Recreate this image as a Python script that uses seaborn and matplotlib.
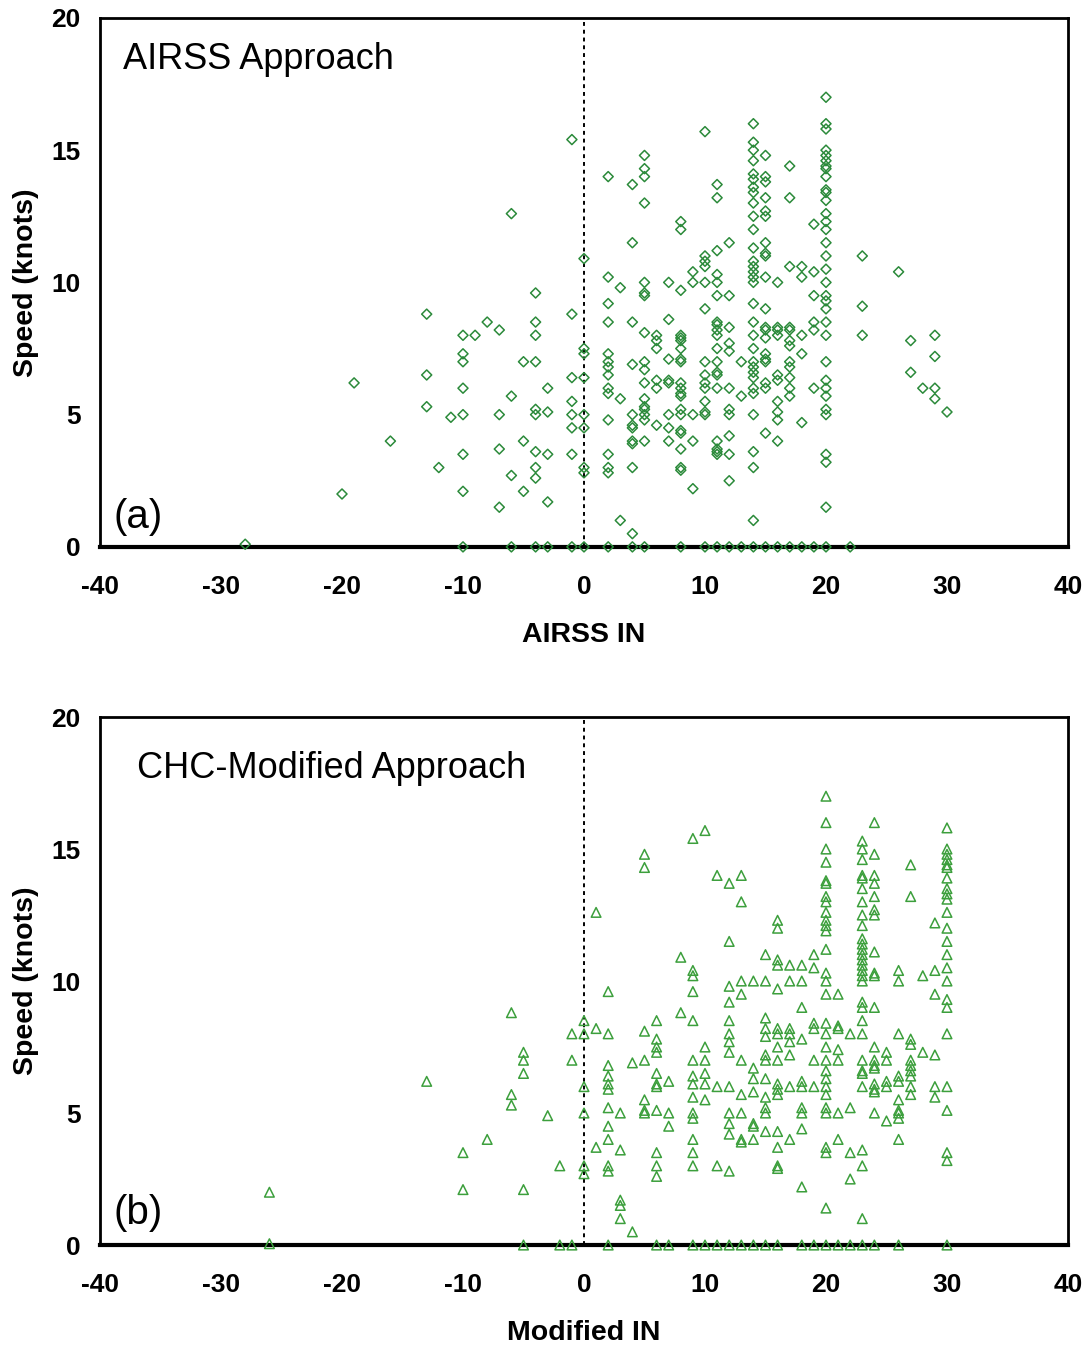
import numpy as np
import pandas as pd
import matplotlib
matplotlib.use("Agg")
import matplotlib.pyplot as plt
import seaborn as sns

# (a) AIRSS approach: intensity number vs speed (knots)
airss_in = (
    [-28, -20, -19, -16, -13, -13, -13, -12, -11]
    + [-10] * 8 + [-9, -8] + [-7] * 4 + [-6] * 4 + [-5] * 3
    + [-4] * 10 + [-3] * 5 + [-1] * 8 + [0] * 9
    + [2] * 15 + [3] * 3 + [4] * 12 + [5] * 18 + [6] * 6 + [7] * 8
    + [8] * 21 + [9] * 5 + [10] * 14 + [11] * 20 + [12] * 12 + [13] * 3
    + [14] * 32 + [15] * 21 + [16] * 11 + [17] * 13 + [18] * 6 + [19] * 7
    + [20] * 34 + [22] + [23] * 3 + [26] + [27] * 2 + [28] + [29] * 4 + [30]
)
airss_speed = (
    [0.1, 2.0, 6.2, 4.0, 8.8, 6.5, 5.3, 3.0, 4.9]
    + [8.0, 7.3, 7.0, 6.0, 5.0, 3.5, 2.1, 0]
    + [8.0, 8.5]
    + [8.2, 5.0, 3.7, 1.5]
    + [12.6, 5.7, 2.7, 0]
    + [7.0, 4.0, 2.1]
    + [9.6, 8.5, 8.0, 7.0, 5.2, 5.0, 3.6, 3.0, 2.6, 0]
    + [6.0, 5.1, 3.5, 1.7, 0]
    + [15.4, 8.8, 6.4, 5.5, 5.0, 4.5, 3.5, 0]
    + [10.9, 7.5, 7.3, 6.4, 5.0, 4.5, 3.0, 2.8, 0]
    + [14.0, 10.2, 9.2, 8.5, 7.3, 7.0, 6.8, 6.5, 6.0, 5.8, 4.8, 3.5, 3.0, 2.8, 0]
    + [9.8, 5.6, 1.0]
    + [13.7, 11.5, 8.5, 6.9, 5.0, 4.6, 4.5, 4.0, 3.9, 3.0, 0.5, 0]
    + [14.8, 14.3, 14.0, 13.0, 10.0, 9.6, 9.5, 8.1, 7.0, 6.7, 6.2, 5.6, 5.3,
       5.2, 5.0, 4.8, 4.0, 0]
    + [8.0, 7.8, 7.5, 6.3, 6.0, 4.6]
    + [10.0, 8.6, 7.1, 6.3, 6.2, 5.0, 4.5, 4.0]
    + [12.3, 12.0, 9.7, 8.0, 7.9, 7.8, 7.5, 7.1, 7.0, 6.2, 6.0, 5.8, 5.7, 5.2,
       5.0, 4.4, 4.3, 3.7, 3.0, 2.9, 0]
    + [10.4, 10.0, 5.0, 4.0, 2.2]
    + [15.7, 11.0, 10.8, 10.6, 10.0, 9.0, 7.0, 6.5, 6.2, 6.0, 5.5, 5.1, 5.0, 0]
    + [13.7, 13.2, 11.2, 10.3, 10.0, 9.5, 8.5, 8.4, 8.2, 8.0, 7.5, 7.0, 6.6,
       6.5, 6.0, 4.0, 3.7, 3.6, 3.5, 0]
    + [11.5, 9.5, 8.3, 7.7, 7.4, 6.0, 5.2, 5.0, 4.2, 3.5, 2.5, 0]
    + [7.0, 5.7, 0]
    + [16.0, 15.3, 15.0, 14.6, 14.1, 13.9, 13.6, 13.4, 13.0, 12.5, 12.0, 11.3,
       10.8, 10.6, 10.4, 10.2, 10.0, 9.2, 8.5, 8.0, 7.5, 7.0, 6.8, 6.6, 6.4,
       6.0, 5.8, 5.0, 3.6, 3.0, 1.0, 0]
    + [14.8, 14.0, 13.8, 13.2, 12.7, 12.5, 11.5, 11.1, 11.0, 10.2, 9.0, 8.3,
       8.2, 7.9, 7.3, 7.1, 7.0, 6.2, 6.0, 4.3, 0]
    + [10.0, 8.3, 8.2, 8.0, 6.5, 6.3, 5.5, 5.1, 4.8, 4.0, 0]
    + [14.4, 13.2, 10.6, 8.3, 8.2, 7.8, 7.6, 7.0, 6.8, 6.4, 6.0, 5.7, 0]
    + [10.6, 10.2, 8.0, 7.3, 4.7, 0]
    + [12.2, 10.4, 9.5, 8.5, 8.2, 6.0, 0]
    + [17.0, 16.0, 15.8, 15.0, 14.8, 14.6, 14.4, 14.3, 14.0, 13.5, 13.4, 13.1,
       12.6, 12.3, 12.0, 11.5, 11.0, 10.5, 10.0, 9.5, 9.3, 9.0, 8.5, 8.0, 7.0,
       6.3, 6.0, 5.7, 5.2, 5.0, 3.5, 3.2, 1.5, 0]
    + [0]
    + [11.0, 9.1, 8.0]
    + [10.4]
    + [7.8, 6.6]
    + [6.0]
    + [8.0, 7.2, 6.0, 5.6]
    + [5.1]
)

# (b) CHC-modified approach
mod_in = (
    [-26, -26, -13, -10, -10, -8] + [-6] * 3 + [-5] * 5 + [-3]
    + [-2] * 2 + [-1] * 3 + [0] * 6 + [1] * 3 + [2] * 12 + [3] * 5
    + [4] * 2 + [5] * 7 + [6] * 12 + [7] * 4 + [8] * 2 + [9] * 15
    + [10] * 7 + [11] * 4 + [12] * 14 + [13] * 10 + [14] * 8 + [15] * 13
    + [16] * 17 + [17] * 8 + [18] * 11 + [19] * 7 + [20] * 30 + [21] * 8
    + [22] * 5 + [23] * 30 + [24] * 20 + [25] * 5 + [26] * 11 + [27] * 10
    + [28] * 2 + [29] * 6 + [30] * 24
)
mod_speed = (
    [2.0, 0.05, 6.2, 3.5, 2.1, 4.0]
    + [8.8, 5.7, 5.3]
    + [7.3, 7.0, 6.5, 2.1, 0]
    + [4.9]
    + [3.0, 0]
    + [8.0, 7.0, 0]
    + [8.5, 8.0, 6.0, 5.0, 3.0, 2.7]
    + [12.6, 8.2, 3.7]
    + [9.6, 8.0, 6.8, 6.4, 6.1, 5.9, 5.2, 4.5, 4.0, 3.0, 2.8, 0]
    + [5.0, 3.6, 1.7, 1.5, 1.0]
    + [6.9, 0.5]
    + [14.8, 14.3, 8.1, 7.0, 5.5, 5.1, 5.0]
    + [8.5, 7.8, 7.5, 7.3, 6.5, 6.1, 6.0, 5.1, 3.5, 3.0, 2.6, 0]
    + [6.2, 5.0, 4.5, 0]
    + [10.9, 8.8]
    + [15.4, 10.4, 10.2, 9.6, 8.5, 7.0, 6.4, 6.1, 5.6, 5.0, 4.8, 4.0, 3.5, 3.0, 0]
    + [15.7, 7.5, 7.0, 6.5, 6.1, 5.5, 0]
    + [14.0, 6.0, 3.0, 0]
    + [13.7, 11.5, 9.8, 9.2, 8.5, 8.0, 7.7, 7.3, 6.0, 5.0, 4.6, 4.2, 2.8, 0]
    + [14.0, 13.0, 10.0, 9.5, 7.0, 5.7, 5.0, 4.0, 3.9, 0]
    + [10.0, 6.7, 6.3, 5.8, 4.6, 4.5, 4.0, 0]
    + [11.0, 10.0, 8.6, 8.2, 7.9, 7.2, 7.0, 6.3, 5.6, 5.2, 5.0, 4.3, 0]
    + [12.3, 12.0, 10.8, 10.6, 9.7, 8.2, 8.0, 7.5, 7.0, 6.1, 5.9, 5.7, 4.3, 3.7,
       3.0, 2.9, 0]
    + [10.6, 10.0, 8.2, 8.0, 7.7, 7.2, 6.0, 4.0]
    + [10.6, 10.0, 9.0, 7.8, 6.2, 6.0, 5.2, 5.0, 4.4, 2.2, 0]
    + [11.0, 10.5, 8.4, 8.2, 7.0, 6.0, 0]
    + [17.0, 16.0, 15.0, 14.5, 13.8, 13.7, 13.2, 13.0, 12.6, 12.3, 12.1, 11.9,
       11.2, 10.3, 10.0, 9.5, 8.4, 8.0, 7.5, 7.0, 6.6, 6.3, 6.0, 5.7, 5.2, 5.0,
       3.7, 3.5, 1.4, 0]
    + [9.5, 8.3, 8.2, 7.4, 7.0, 5.0, 4.0, 0]
    + [8.0, 5.2, 3.5, 2.5, 0]
    + [15.3, 15.0, 14.6, 14.0, 13.9, 13.5, 13.0, 12.5, 12.1, 11.6, 11.4, 11.2,
       11.0, 10.8, 10.6, 10.4, 10.2, 10.0, 9.2, 9.0, 8.5, 8.0, 7.0, 6.6, 6.5,
       6.0, 3.6, 3.0, 1.0, 0]
    + [16.0, 14.8, 14.0, 13.7, 13.2, 12.7, 12.5, 11.1, 10.3, 10.2, 9.0, 7.5,
       7.0, 6.8, 6.7, 6.1, 5.9, 5.8, 5.0, 0]
    + [7.3, 7.0, 6.2, 6.0, 4.7]
    + [10.4, 10.0, 8.0, 6.4, 6.2, 5.5, 5.1, 5.0, 4.8, 4.0, 0]
    + [14.4, 13.2, 7.8, 7.6, 7.0, 6.8, 6.6, 6.4, 6.0, 5.7]
    + [10.2, 7.3]
    + [12.2, 10.4, 9.5, 7.2, 6.0, 5.6]
    + [15.8, 15.0, 14.8, 14.6, 14.4, 14.3, 13.9, 13.5, 13.3, 13.1, 12.6, 12.0,
       11.5, 11.0, 10.5, 10.0, 9.3, 9.0, 8.0, 6.0, 5.1, 3.5, 3.2, 0]
)

x_ticks = [-40, -30, -20, -10, 0, 10, 20, 30, 40]
y_ticks = [0, 5, 10, 15, 20]

sns.set_theme(style="white")
plt.rcParams["font.family"] = ["Liberation Sans", "DejaVu Sans"]
plt.rcParams["axes.unicode_minus"] = False
plt.rcParams["text.color"] = "black"
plt.rcParams["axes.labelcolor"] = "black"
plt.rcParams["xtick.color"] = "black"
plt.rcParams["ytick.color"] = "black"

fig = plt.figure(figsize=(10.87, 13.47), dpi=100)
ax_a = fig.add_axes([0.092, 0.594, 0.8905, 0.3927])
ax_b = fig.add_axes([0.092, 0.0757, 0.8905, 0.392])

df_a = pd.DataFrame({"x": airss_in, "y": airss_speed})
df_b = pd.DataFrame({"x": mod_in, "y": mod_speed})

sns.scatterplot(data=df_a, x="x", y="y", ax=ax_a, marker="D", s=26,
                facecolor="none", edgecolor="#2b8a3a", linewidth=1.1,
                clip_on=False, zorder=3)
sns.scatterplot(data=df_b, x="x", y="y", ax=ax_b, marker="^", s=48,
                facecolor="none", edgecolor="#3c9f3c", linewidth=1.1,
                clip_on=False, zorder=3)

panels = [
    (ax_a, "AIRSS Approach", 0.024, 0.922, "(a)", 0.057, "AIRSS IN"),
    (ax_b, "CHC-Modified Approach", 0.038, 0.903, "(b)", 0.06, "Modified IN"),
]
for ax, title, tx, ty, tag, gy, xlabel in panels:
    ax.set_xlim(-40, 40)
    ax.set_ylim(0, 20)
    ax.set_xticks(x_ticks)
    ax.set_yticks(y_ticks)
    ax.axvline(0, color="black", linestyle=(0, (2, 2)), linewidth=1.4, zorder=2)
    for sp in ax.spines.values():
        sp.set_color("black")
        sp.set_linewidth(2)
    ax.spines["bottom"].set_linewidth(3)
    ax.tick_params(axis="x", length=0, pad=20, labelsize=19)
    ax.tick_params(axis="y", length=0, pad=14, labelsize=19)
    for lbl in ax.get_xticklabels() + ax.get_yticklabels():
        lbl.set_fontweight("bold")
    ax.set_xlabel(xlabel, fontsize=20.5, fontweight="bold", labelpad=17)
    ax.set_ylabel("Speed (knots)", fontsize=20.5, fontweight="bold", labelpad=9)
    ax.text(tx, ty, title, transform=ax.transAxes, fontsize=26, va="center")
    ax.text(0.014, gy, tag, transform=ax.transAxes, fontsize=29, va="center")

fig.savefig("out.png", dpi=100)
